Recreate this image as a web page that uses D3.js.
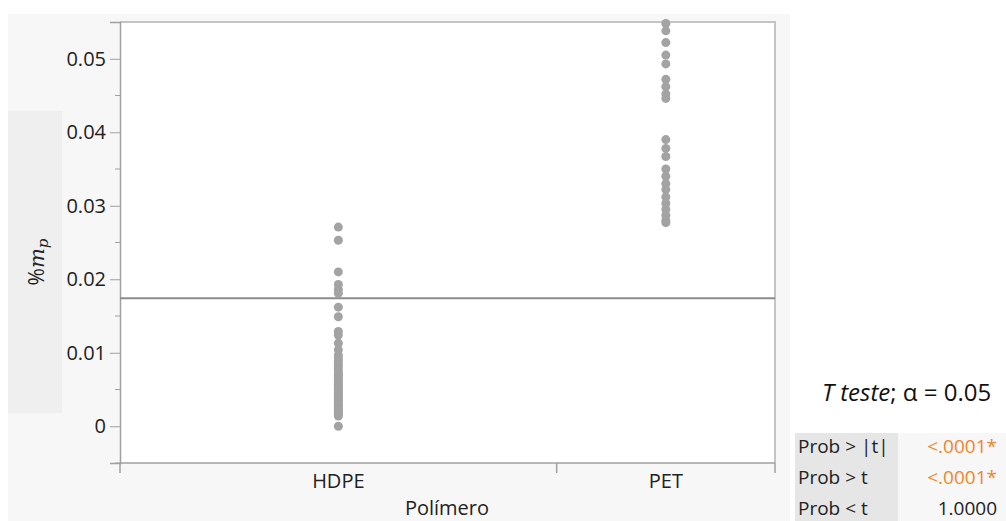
<!DOCTYPE html>
<html>
<head>
<meta charset="utf-8">
<script src="https://cdn.jsdelivr.net/npm/d3@7"></script>
<style>
  body { margin: 0; background: #ffffff; }
  text { font-family: "Open Sans", "Noto Sans", sans-serif; }
</style>
</head>
<body>
<svg id="viz"></svg>
<script>
var categories = ["HDPE", "PET"];
var hdpe = [0.0271, 0.0253, 0.0210, 0.0193, 0.0186, 0.0181, 0.0162, 0.0149, 0.0129, 0.0124,
            0.0113, 0.0104, 0.0097, 0.0093, 0.0089, 0.0085, 0.0082, 0.0078, 0.0074, 0.0071,
            0.0069, 0.0066, 0.0063, 0.0060, 0.0057, 0.0055, 0.0052, 0.0049, 0.0046, 0.0044,
            0.0041, 0.0039, 0.0036, 0.0034, 0.0031, 0.0029, 0.0027, 0.0024, 0.0022, 0.0020,
            0.0018, 0.0016, 0.0014, 0.0000];
var pet = [0.0548, 0.0538, 0.0522, 0.0505, 0.0493, 0.0472, 0.0462, 0.0452, 0.0446, 0.0390,
           0.0378, 0.0367, 0.0350, 0.0340, 0.0330, 0.0322, 0.0312, 0.0303, 0.0295, 0.0287,
           0.0280, 0.0277];
var grandMean = 0.0174;
var yTicks = [0, 0.01, 0.02, 0.03, 0.04, 0.05];
var testTitle = ["T teste", "; α = 0.05"];
var probLabels = ["Prob > |t|", "Prob > t", "Prob < t"];
var probValues = ["<.0001*", "<.0001*", "1.0000"];
var probSignif = [true, true, false];

var width = 1006;
var height = 521;
var pLeft = 120, pRight = 775, pTop = 22, pBottom = 463;

var svg = d3.select("#viz").attr("width", width).attr("height", height);

// panel backgrounds
svg.append("rect").attr("x", 8).attr("y", 14).attr("width", 782).attr("height", 507).attr("fill", "#f7f7f7");
svg.append("rect").attr("x", 8).attr("y", 111).attr("width", 54).attr("height", 302).attr("fill", "#efefef");
svg.append("rect").attr("x", pLeft).attr("y", pTop).attr("width", pRight - pLeft).attr("height", pBottom - pTop)
    .attr("fill", "#ffffff");
svg.append("path").attr("d", "M" + pLeft + "," + pTop + "H" + pRight + "V" + pBottom)
    .attr("fill", "none").attr("stroke", "#c4c4c4").attr("stroke-width", 2);

var y = d3.scaleLinear().domain([-0.005, 0.055]).range([pBottom, pTop]);

// band widths proportional to group sizes, like JMP does
var groups = [hdpe, pet];
var cum = [0];
groups.forEach(function(g, i) { cum.push(cum[i] + g.length); });
var x = d3.scaleLinear().domain([0, cum[cum.length - 1]]).range([pLeft, pRight]);

// y axis
var yAxis = d3.axisLeft(y).tickValues(yTicks).tickSize(10).tickPadding(4)
    .tickFormat(function(d) { return d === 0 ? "0" : d3.format(".2f")(d); });
var gy = svg.append("g").attr("transform", "translate(" + pLeft + ",0)").call(yAxis);
gy.select(".domain").attr("stroke", "#a0a0a0").attr("stroke-width", 1.5);
gy.selectAll(".tick line").attr("stroke", "#a0a0a0");
gy.selectAll(".tick text").attr("font-size", 20).attr("fill", "#222").attr("font-family", "Open Sans, sans-serif");
var minor = d3.range(-0.005, 0.055, 0.01);
gy.selectAll(".minor").data(minor).enter().append("line")
    .attr("x1", -5).attr("x2", 0)
    .attr("y1", function(d) { return y(d); }).attr("y2", function(d) { return y(d); })
    .attr("stroke", "#a0a0a0");

// x axis
var gx = svg.append("g").attr("transform", "translate(0," + pBottom + ")");
gx.append("line").attr("x1", pLeft).attr("x2", pRight).attr("stroke", "#a0a0a0").attr("stroke-width", 1.5);
gx.selectAll(".bt").data(cum).enter().append("line")
    .attr("x1", function(d) { return x(d); }).attr("x2", function(d) { return x(d); })
    .attr("y1", 0).attr("y2", 10).attr("stroke", "#a0a0a0").attr("stroke-width", 1.5);
gx.selectAll(".lab").data(categories).enter().append("text")
    .attr("x", function(d, i) { return x((cum[i] + cum[i + 1]) / 2); })
    .attr("y", 25).attr("text-anchor", "middle").attr("font-size", 20).attr("fill", "#222")
    .text(function(d) { return d; });
svg.append("text").attr("x", 447).attr("y", 515).attr("text-anchor", "middle")
    .attr("font-size", 20).attr("fill", "#222").text("Polímero");

// y title %m_p
var yt = svg.append("text").attr("transform", "translate(44,262) rotate(-90)")
    .attr("text-anchor", "middle").attr("font-size", 21).attr("fill", "#222");
yt.append("tspan").text("%");
yt.append("tspan").attr("font-style", "italic").attr("font-family", "DejaVu Serif, serif").text("m");
yt.append("tspan").attr("font-style", "italic").attr("font-family", "DejaVu Serif, serif")
    .attr("font-size", 15).attr("dy", 4).text("p");

// grand mean line
svg.append("line").attr("x1", pLeft).attr("x2", pRight)
    .attr("y1", y(grandMean)).attr("y2", y(grandMean))
    .attr("stroke", "#8c8c8c").attr("stroke-width", 2);

// points
groups.forEach(function(g, i) {
    var cx = x((cum[i] + cum[i + 1]) / 2);
    svg.append("g").selectAll("circle").data(g).enter().append("circle")
        .attr("cx", cx).attr("cy", function(d) { return y(d); })
        .attr("r", 4.5).attr("fill", "#a3a3a3");
});

// test results
var tt = svg.append("text").attr("x", 822).attr("y", 401).attr("font-size", 24).attr("fill", "#111");
tt.append("tspan").attr("font-style", "italic").text(testTitle[0]);
tt.append("tspan").text(testTitle[1]);

svg.append("rect").attr("x", 795).attr("y", 433).attr("width", 103).attr("height", 88).attr("fill", "#e6e6e6");
svg.append("rect").attr("x", 898).attr("y", 433).attr("width", 108).attr("height", 88).attr("fill", "#f7f7f7");
var rowY = d3.scalePoint().domain(probLabels).range([453, 515]);
svg.selectAll(".pl").data(probLabels).enter().append("text")
    .attr("x", 798).attr("y", function(d) { return rowY(d); })
    .attr("font-size", 19).attr("fill", "#222").text(function(d) { return d; });
svg.selectAll(".pv").data(probValues).enter().append("text")
    .attr("x", 997).attr("y", function(d, i) { return rowY(probLabels[i]); })
    .attr("text-anchor", "end").attr("font-size", 19)
    .attr("fill", function(d, i) { return probSignif[i] ? "#f0862a" : "#222"; })
    .text(function(d) { return d; });
</script>
</body>
</html>
